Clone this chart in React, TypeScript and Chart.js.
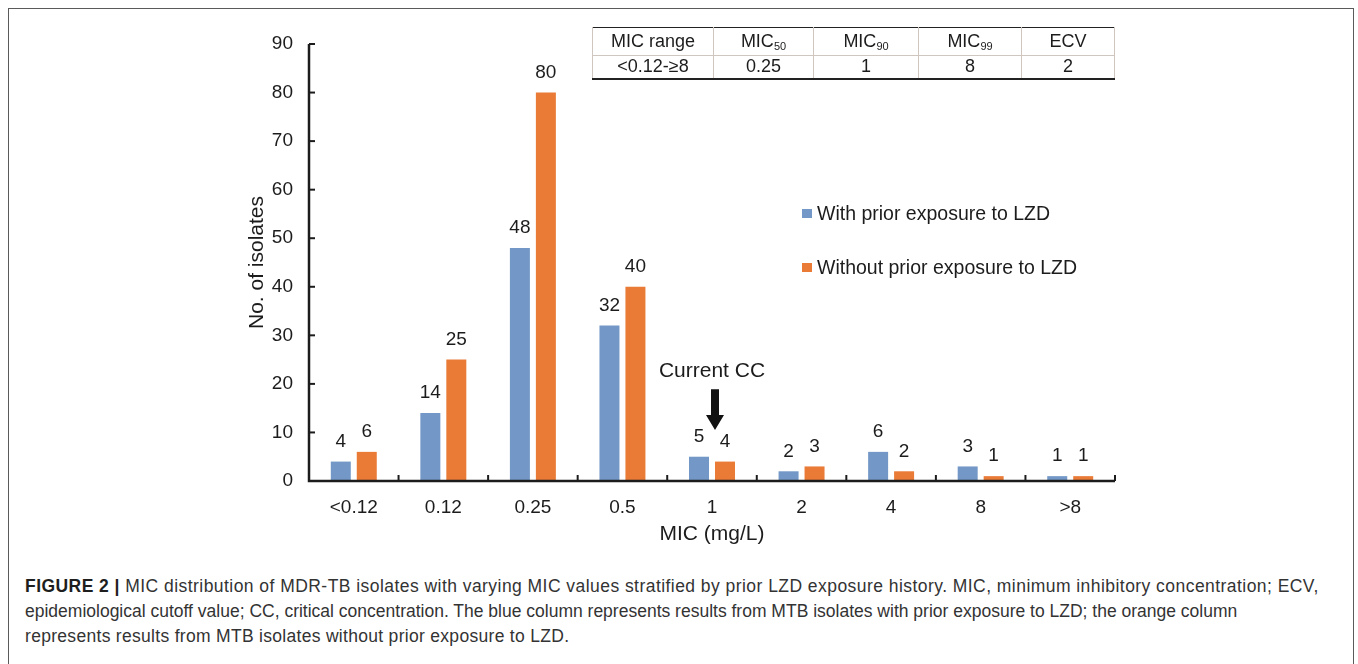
import React, { useEffect, useRef } from "react";
import { Chart, registerables } from "chart.js";

Chart.register(...registerables);

const categories = ["<0.12", "0.12", "0.25", "0.5", "1", "2", "4", "8", ">8"];
const withExposure = [4, 14, 48, 32, 5, 2, 6, 3, 1];
const withoutExposure = [6, 25, 80, 40, 4, 3, 2, 1, 1];
const seriesNames = ["With prior exposure to LZD", "Without prior exposure to LZD"];
const yTicks = [0, 10, 20, 30, 40, 50, 60, 70, 80, 90];
const tableHeaders = ["MIC range", "MIC|50", "MIC|90", "MIC|99", "ECV"];
const tableValues = ["<0.12-\u22658", "0.25", "1", "8", "2"];
const ccCategory = "1";

const BLUE = "#7398c7";
const ORANGE = "#e97b37";
const INK = "#1c1c1c";
const FONT = "'Liberation Sans', Arial, sans-serif";

const decorPlugin = {
  id: "decor",
  afterDatasetsDraw(chart: any) {
    const { ctx, chartArea, scales } = chart;
    const xs = scales.x;
    const ys = scales.y;
    const y0 = ys.getPixelForValue(0);
    ctx.save();
    ctx.strokeStyle = INK;
    ctx.lineWidth = 2.5;
    ctx.beginPath();
    ctx.moveTo(chartArea.left, ys.getPixelForValue(90));
    ctx.lineTo(chartArea.left, y0);
    ctx.lineTo(chartArea.right, y0);
    ctx.stroke();
    ctx.lineWidth = 2;
    yTicks.forEach((v) => {
      const py = ys.getPixelForValue(v);
      ctx.beginPath();
      ctx.moveTo(chartArea.left, py);
      ctx.lineTo(chartArea.left + 6, py);
      ctx.stroke();
    });
    for (let i = 1; i <= categories.length; i++) {
      let px: number;
      if (i < categories.length) {
        px = (xs.getPixelForValue(i - 1) + xs.getPixelForValue(i)) / 2;
      } else {
        px = chartArea.right;
      }
      ctx.beginPath();
      ctx.moveTo(px, y0);
      ctx.lineTo(px, y0 - 6);
      ctx.stroke();
    }
    ctx.fillStyle = INK;
    ctx.font = `19px ${FONT}`;
    ctx.textAlign = "center";
    ctx.textBaseline = "middle";
    chart.data.datasets.forEach((ds: any, di: number) => {
      const meta = chart.getDatasetMeta(di);
      meta.data.forEach((el: any, i: number) => {
        ctx.fillText(String(ds.data[i]), el.x, el.y - 20);
      });
    });
    const ci = categories.indexOf(ccCategory);
    const cx = xs.getPixelForValue(ci);
    ctx.font = `21px ${FONT}`;
    ctx.fillText("Current CC", cx, ys.getPixelForValue(22.7));
    const ax = cx + 3;
    const aTop = ys.getPixelForValue(18.9);
    const aHead = ys.getPixelForValue(13.6);
    const aTip = ys.getPixelForValue(10.5);
    ctx.fillStyle = "#111";
    ctx.beginPath();
    ctx.moveTo(ax - 4, aTop);
    ctx.lineTo(ax + 4, aTop);
    ctx.lineTo(ax + 4, aHead);
    ctx.lineTo(ax + 9, aHead);
    ctx.lineTo(ax, aTip);
    ctx.lineTo(ax - 9, aHead);
    ctx.lineTo(ax - 4, aHead);
    ctx.closePath();
    ctx.fill();
    ctx.restore();
  },
};

function Sub({ text }: { text: string }) {
  const [a, b] = text.split("|");
  return (
    <span>
      {a}
      {b ? <sub style={{ fontSize: 11, verticalAlign: -3 }}>{b}</sub> : null}
    </span>
  );
}

export default function App() {
  const ref = useRef<HTMLCanvasElement>(null);
  useEffect(() => {
    if (!ref.current) return;
    const chart = new Chart(ref.current, {
      type: "bar",
      data: {
        labels: categories,
        datasets: [
          {
            label: seriesNames[0],
            data: withExposure,
            backgroundColor: BLUE,
            categoryPercentage: 0.58,
            barPercentage: 0.77,
          },
          {
            label: seriesNames[1],
            data: withoutExposure,
            backgroundColor: ORANGE,
            categoryPercentage: 0.58,
            barPercentage: 0.77,
          },
        ],
      },
      options: {
        animation: false,
        responsive: false,
        maintainAspectRatio: false,
        layout: { padding: { left: 240, top: 44, right: 243, bottom: 0 } },
        plugins: { legend: { display: false }, tooltip: { enabled: false } },
        scales: {
          x: {
            afterFit: (s: any) => {
              s.height = 79;
            },
            grid: { display: false, drawTicks: false },
            border: { display: false },
            ticks: { color: INK, font: { family: FONT, size: 19 }, padding: 15, maxRotation: 0 },
            title: {
              display: true,
              text: "MIC (mg/L)",
              color: INK,
              font: { family: FONT, size: 21 },
              padding: { top: 0, bottom: 13 },
            },
          },
          y: {
            min: 0,
            max: 90,
            afterFit: (s: any) => {
              s.width = 69;
            },
            afterBuildTicks: (s: any) => {
              s.ticks = yTicks.map((v) => ({ value: v }));
            },
            grid: { display: false, drawTicks: false },
            border: { display: false },
            ticks: { color: INK, font: { family: FONT, size: 19 }, padding: 16 },
            title: {
              display: true,
              text: "No. of isolates",
              color: INK,
              font: { family: FONT, size: 21 },
              padding: { top: 5, bottom: 0 },
            },
          },
        },
      },
      plugins: [decorPlugin],
    });
    return () => chart.destroy();
  }, []);

  const colW = [121, 100, 105, 103, 93];
  const cellBase: React.CSSProperties = {
    borderLeft: "1px solid #cfc7bf",
    borderRight: "1px solid #cfc7bf",
    textAlign: "center",
    padding: 0,
    fontFamily: FONT,
    fontSize: 18,
    color: INK,
    whiteSpace: "nowrap",
  };

  return (
    <div
      style={{
        position: "fixed",
        left: 0,
        top: 0,
        width: 1358,
        height: 664,
        overflow: "hidden",
        background: "#fff",
      }}
    >
      <div
        style={{
          position: "absolute",
          left: 8,
          top: 8,
          width: 1344,
          height: 700,
          border: "1.5px solid #5a5a5a",
        }}
      />
      <canvas ref={ref} width={1358} height={560} style={{ position: "absolute", left: 0, top: 0 }} />
      <table
        style={{
          position: "absolute",
          left: 592,
          top: 27,
          borderCollapse: "collapse",
          tableLayout: "fixed",
          width: colW.reduce((a, b) => a + b, 0),
          borderTop: "1.5px solid #222",
          borderBottom: "2px solid #222",
        }}
      >
        <colgroup>
          {colW.map((w, i) => (
            <col key={i} style={{ width: w }} />
          ))}
        </colgroup>
        <tbody>
          <tr style={{ height: 28 }}>
            {tableHeaders.map((h, i) => (
              <td key={i} style={{ ...cellBase, borderBottom: "1px solid #cfc7bf" }}>
                <Sub text={h} />
              </td>
            ))}
          </tr>
          <tr style={{ height: 23 }}>
            {tableValues.map((v, i) => (
              <td key={i} style={cellBase}>
                {v}
              </td>
            ))}
          </tr>
        </tbody>
      </table>
      {seriesNames.map((name, i) => (
        <div
          key={i}
          style={{
            position: "absolute",
            left: 802,
            top: i === 0 ? 201 : 255,
            height: 24,
            display: "flex",
            alignItems: "center",
            fontFamily: FONT,
            fontSize: 19.5,
            color: INK,
            whiteSpace: "nowrap",
          }}
        >
          <span
            style={{
              display: "inline-block",
              width: 10,
              height: 9,
              background: i === 0 ? BLUE : ORANGE,
              marginRight: 5,
            }}
          />
          {name}
        </div>
      ))}
      <div
        style={{
          position: "absolute",
          left: 25,
          top: 574,
          fontFamily: FONT,
          fontSize: 17.5,
          lineHeight: "25px",
          color: "#333",
          whiteSpace: "nowrap",
        }}
      >
        <div style={{ letterSpacing: 0.45 }}>
          <b style={{ color: "#1e1e1e" }}>FIGURE 2 |</b> MIC distribution of MDR-TB isolates with varying MIC values stratified by prior LZD exposure history. MIC, minimum inhibitory concentration; ECV,
        </div>
        <div>
          epidemiological cutoff value; CC, critical concentration. The blue column represents results from MTB isolates with prior exposure to LZD; the orange column
        </div>
        <div style={{ letterSpacing: 0.3 }}>represents results from MTB isolates without prior exposure to LZD.</div>
      </div>
    </div>
  );
}
